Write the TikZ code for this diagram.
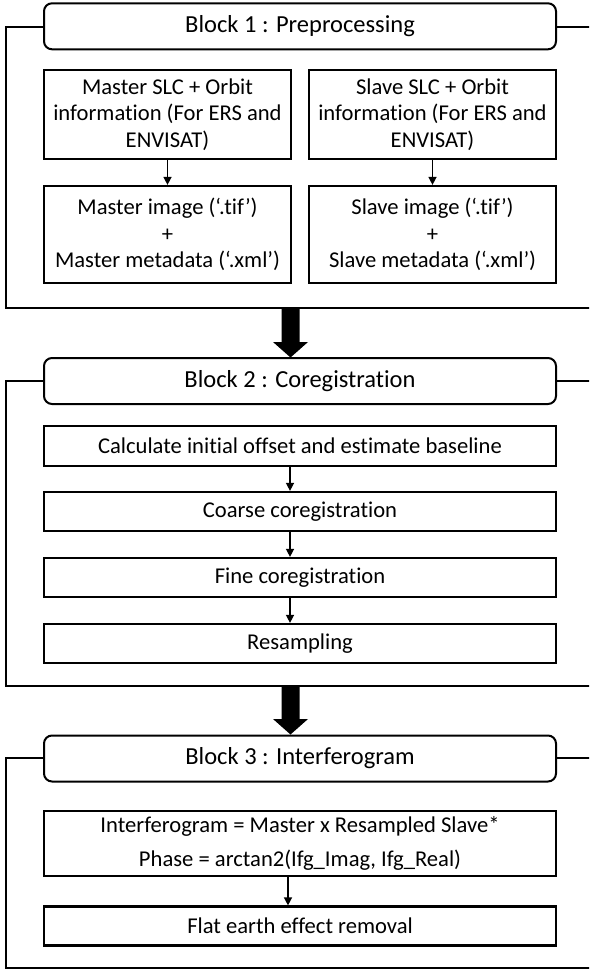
\documentclass[tikz,border=0pt]{standalone}
\usepackage{fontspec}
\setmainfont{Carlito}[Ligatures={TeX,NoCommon}]
\usetikzlibrary{arrows.meta,calc}
\begin{document}
\begin{tikzpicture}[x=1pt,y=-1pt,
  hdr/.style={draw, line width=2pt, rounded corners=8pt, fill=white, minimum width=512pt, minimum height=46pt, inner sep=0pt, font=\fontsize{24.5}{29}\selectfont},
  stepbox/.style={draw, line width=2.2pt, fill=white, inner sep=0pt, align=center, font=\fontsize{22.6}{26.7}\selectfont},
  framebox/.style={draw, line width=2pt},
  arr/.style={line width=1.4pt, -{Triangle[length=8pt,width=8pt]}},
  bigarr/.style={fill=black}
]
\clip (0,0) rectangle (589,971);
\fill[white] (0,0) rectangle (589,971);

% ---------- Block 1 ----------
\coordinate (f1tl) at (5.6,27.3);
\coordinate (f1br) at (600,308);
\draw[framebox] (f1tl) rectangle (f1br);
\node[hdr] (h1) at (300,26.3) {Block 1 : Preprocessing};
\node[stepbox, minimum width=247pt, minimum height=89pt] (m1) at (167.5,114.5)
  {Master SLC + Orbit\\information (For ERS and\\ENVISAT)};
\node[stepbox, minimum width=247pt, minimum height=89pt] (s1) at (432.5,114.5)
  {Slave SLC + Orbit\\information (For ERS and\\ENVISAT)};
\node[stepbox, minimum width=247pt, minimum height=97pt] (m2) at (167.5,234.5)
  {Master image (‘.tif’)\\+\\Master metadata (‘.xml’)};
\node[stepbox, minimum width=247pt, minimum height=97pt] (s2) at (432.5,234.5)
  {Slave image (‘.tif’)\\+\\Slave metadata (‘.xml’)};
\draw[arr] (m1.south) -- (m2.north);
\draw[arr] (s1.south) -- (s2.north);

% big arrow 1
\fill[bigarr] (281.5,308) -- (299.5,308) -- (299.5,342) -- (308,342) -- (290.5,357.5) -- (273,342) -- (281.5,342) -- cycle;

% ---------- Block 2 ----------
\coordinate (f2tl) at (5.6,381);
\coordinate (f2br) at (600,686);
\draw[framebox] (f2tl) rectangle (f2br);
\node[hdr] (h2) at (300,381) {Block 2 : Coregistration};
\node[stepbox, minimum width=512pt, minimum height=40pt] (c1) at (300,446)
  {Calculate initial offset and estimate baseline};
\node[stepbox, minimum width=512pt, minimum height=39pt] (c2) at (300,511.5)
  {Coarse coregistration};
\node[stepbox, minimum width=512pt, minimum height=39pt] (c3) at (300,577.5)
  {Fine coregistration};
\node[stepbox, minimum width=512pt, minimum height=39pt] (c4) at (300,643.5)
  {Resampling};
\draw[arr] ([xshift=-10pt]c1.south) -- ([xshift=-10pt]c2.north);
\draw[arr] ([xshift=-10pt]c2.south) -- ([xshift=-10pt]c3.north);
\draw[arr] ([xshift=-10pt]c3.south) -- ([xshift=-10pt]c4.north);

% big arrow 2
\fill[bigarr] (281.5,686) -- (299.5,686) -- (299.5,719) -- (308,719) -- (290.5,734.5) -- (273,719) -- (281.5,719) -- cycle;

% ---------- Block 3 ----------
\coordinate (f3tl) at (5.6,757.5);
\coordinate (f3br) at (600,968);
\draw[framebox] (f3tl) rectangle (f3br);
\node[hdr] (h3) at (300,758.5) {Block 3 : Interferogram};
\node[stepbox, minimum width=512pt, minimum height=65pt, font=\fontsize{22.6}{34}\selectfont] (i1) at (300,843.5)
  {Interferogram = Master x Resampled Slave*\\Phase = arctan2(Ifg\_Imag, Ifg\_Real)};
\node[stepbox, minimum width=512pt, minimum height=39pt] (i2) at (300,926)
  {Flat earth effect removal};
\draw[arr] ([xshift=-12pt]i1.south) -- ([xshift=-12pt]i2.north);
\end{tikzpicture}
\end{document}
